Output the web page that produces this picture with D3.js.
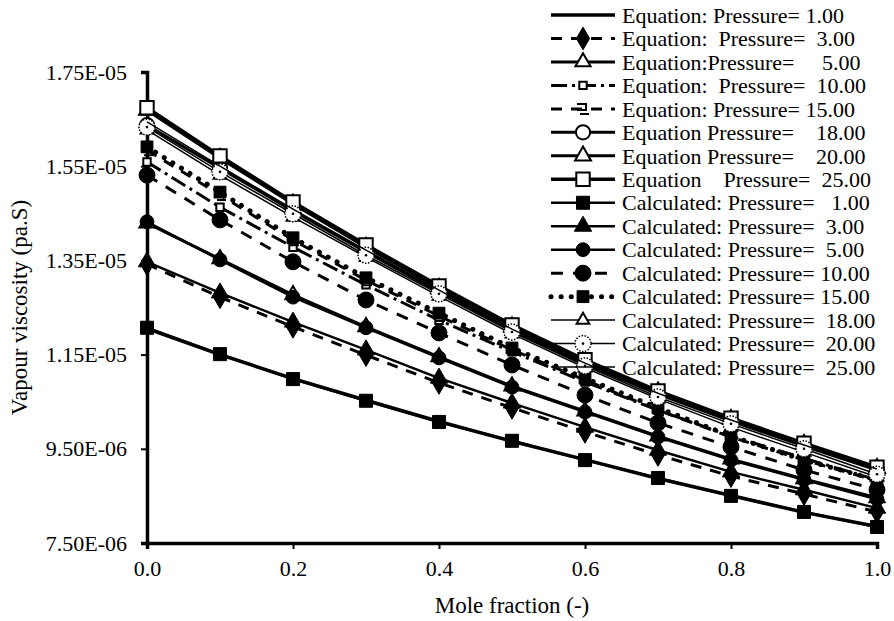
<!DOCTYPE html>
<html>
<head>
<meta charset="utf-8">
<script src="https://cdn.jsdelivr.net/npm/d3@7/dist/d3.min.js"></script>
<style>
  body { margin: 0; background: #fff; }
  text { font-family: "Liberation Serif", "Times New Roman", serif; fill: #000; }
</style>
</head>
<body>
<div id="chart"></div>
<script>
// mole fraction
const moleFraction = [0, 0.1, 0.2, 0.3, 0.4, 0.5, 0.6, 0.7, 0.8, 0.9, 1.0];

// vapour viscosity, in units of 1e-6 Pa.s
const eq1    = [12.05, 11.50, 10.99, 10.53, 10.08, 9.66, 9.27, 8.87, 8.51, 8.15, 7.85];
const eq3    = [13.42, 12.72, 12.09, 11.49, 10.90, 10.37, 9.86, 9.37, 8.92, 8.54, 8.16];
const eq5    = [14.29, 13.53, 12.77, 12.09, 11.45, 10.83, 10.30, 9.77, 9.28, 8.86, 8.46];
const eq10   = [15.59, 14.63, 13.78, 12.98, 12.23, 11.56, 10.92, 10.32, 9.77, 9.30, 8.84];
const eq15   = [15.84, 14.89, 13.93, 13.08, 12.32, 11.60, 10.96, 10.32, 9.75, 9.26, 8.82];
const eq18   = [16.37, 15.46, 14.55, 13.68, 12.83, 12.02, 11.30, 10.66, 10.09, 9.56, 9.05];
const eq20   = [16.69, 15.67, 14.70, 13.78, 12.91, 12.09, 11.34, 10.71, 10.13, 9.60, 9.09];
const eq25   = [16.74, 15.72, 14.74, 13.83, 12.96, 12.13, 11.39, 10.73, 10.15, 9.62, 9.11];
const calc1  = [12.07, 11.51, 10.98, 10.52, 10.07, 9.67, 9.26, 8.88, 8.50, 8.16, 7.84];
const calc3  = [13.47, 12.81, 12.19, 11.60, 11.00, 10.47, 9.96, 9.47, 9.01, 8.63, 8.24];
const calc5  = [14.32, 13.51, 12.72, 12.07, 11.43, 10.81, 10.28, 9.75, 9.26, 8.84, 8.43];
const calc10 = [15.31, 14.36, 13.47, 12.66, 11.96, 11.28, 10.64, 10.05, 9.54, 9.05, 8.63];
const calc15 = [15.91, 14.95, 13.98, 13.13, 12.38, 11.64, 11.00, 10.37, 9.77, 9.26, 8.84];
const calc18 = [16.27, 15.31, 14.42, 13.57, 12.74, 11.94, 11.22, 10.56, 9.96, 9.43, 8.90];
const calc20 = [16.33, 15.38, 14.49, 13.61, 12.79, 11.98, 11.26, 10.60, 10.03, 9.50, 8.96];
const calc25 = [16.44, 15.50, 14.59, 13.72, 12.87, 12.04, 11.32, 10.68, 10.11, 9.58, 9.07];

const seriesNames = [
  "Equation: Pressure= 1.00",
  "Equation:  Pressure=  3.00",
  "Equation:Pressure=     5.00",
  "Equation:  Pressure=  10.00",
  "Equation: Pressure= 15.00",
  "Equation Pressure=    18.00",
  "Equation Pressure=    20.00",
  "Equation    Pressure=  25.00",
  "Calculated: Pressure=   1.00",
  "Calculated: Pressure=  3.00",
  "Calculated: Pressure=  5.00",
  "Calculated: Pressure= 10.00",
  "Calculated: Pressure= 15.00",
  "Calculated: Pressure=  18.00",
  "Calculated: Pressure=  20.00",
  "Calculated: Pressure=  25.00"
];
const seriesValues = [eq1, eq3, eq5, eq10, eq15, eq18, eq20, eq25,
                      calc1, calc3, calc5, calc10, calc15, calc18, calc20, calc25];

const xTicks = [0, 0.2, 0.4, 0.6, 0.8, 1.0];
const yTicks = [7.5e-6, 9.5e-6, 1.15e-5, 1.35e-5, 1.55e-5, 1.75e-5];

// drawing styles for each series, same order as above
const styles = [
  {w: 3.5, dash: null,          sym: null},
  {w: 3,   dash: "11,9",        sym: "diamond", size: 150, fill: "#000"},
  {w: 3,   dash: null,          sym: "triangle", size: 100, fill: "#fff"},
  {w: 3,   dash: "16,5,3,5",    sym: "square", size: 55, fill: "#fff"},
  {w: 3,   dash: "11,9",        sym: "bracket"},
  {w: 3,   dash: null,          sym: "circle", size: 160, fill: "#fff"},
  {w: 3,   dash: null,          sym: "triangle", size: 110, fill: "#fff"},
  {w: 3.5, dash: null,          sym: "square", size: 180, fill: "#fff"},
  {w: 2.5, dash: null,          sym: "square", size: 170, fill: "#000"},
  {w: 2.5, dash: null,          sym: "triangle", size: 130, fill: "#000"},
  {w: 2.5, dash: null,          sym: "circle", size: 150, fill: "#000"},
  {w: 3,   dash: "12,10",       sym: "circle", size: 200, fill: "#000"},
  {w: 5,   dash: "0.1,10",      sym: "square", size: 140, fill: "#000", cap: "round"},
  {w: 1.5, dash: null,          sym: "triangle", size: 70, fill: "#fff"},
  {w: 1.5, dash: null,          sym: "dotcircle", size: 180},
  {w: 1.5, dash: null,          sym: null}
];

const width = 894, height = 621;
const margin = {left: 147, right: 17, top: 72, bottom: 78};

const svg = d3.select("#chart").append("svg")
  .attr("width", width)
  .attr("height", height);

const x = d3.scaleLinear().domain([0, 1]).range([margin.left, width - margin.right]);
const y = d3.scaleLinear().domain([7.5e-6, 1.75e-5]).range([height - margin.bottom, margin.top]);

function sciFormat(v) {
  const e = Math.floor(Math.log10(v) + 1e-9);
  const m = (Math.round(v / Math.pow(10, e) * 100) / 100).toFixed(2);
  return m + "E-" + String(-e).padStart(2, "0");
}

// axes
const xAxis = svg.append("g")
  .attr("transform", "translate(0," + y.range()[0] + ")")
  .call(d3.axisBottom(x).tickValues(xTicks).tickFormat(d3.format(".1f")).tickSize(6).tickPadding(11));
const yAxis = svg.append("g")
  .attr("transform", "translate(" + margin.left + ",0)")
  .call(d3.axisLeft(y).tickValues(yTicks).tickFormat(sciFormat).tickSize(6).tickPadding(14));

[xAxis, yAxis].forEach(function (a) {
  a.select(".domain").attr("stroke", "#000").attr("stroke-width", 3.5);
  a.selectAll(".tick line").attr("stroke", "#000").attr("stroke-width", 2);
  a.selectAll(".tick text")
    .style("font-family", '"Liberation Serif", serif')
    .style("font-size", "22px")
    .attr("fill", "#000");
});

svg.append("text")
  .attr("x", (x.range()[0] + x.range()[1]) / 2)
  .attr("y", 613)
  .attr("text-anchor", "middle")
  .style("font-size", "23px")
  .text("Mole fraction (-)");

svg.append("text")
  .attr("transform", "translate(27," + (y.range()[0] + y.range()[1]) / 2 + ") rotate(-90)")
  .attr("text-anchor", "middle")
  .style("font-size", "23px")
  .text("Vapour viscosity (pa.S)");

// markers
function drawMarker(g, s) {
  if (!s.sym) return;
  if (s.sym === "bracket") {
    g.append("path")
      .attr("d", "M-6,-5 H3 V1 H-6 M-3,5 H6")
      .attr("fill", "none").attr("stroke", "#000").attr("stroke-width", 2);
    return;
  }
  if (s.sym === "dotcircle") {
    g.append("circle").attr("r", 8)
      .attr("fill", "#fff").attr("stroke", "#000")
      .attr("stroke-width", 1.5).attr("stroke-dasharray", "1.5,1.5");
    g.append("circle").attr("r", 1.3).attr("fill", "#000");
    return;
  }
  const type = {
    diamond: d3.symbolDiamond, triangle: d3.symbolTriangle,
    square: d3.symbolSquare, circle: d3.symbolCircle
  }[s.sym];
  g.append("path")
    .attr("d", d3.symbol().type(type).size(s.size)())
    .attr("fill", s.fill)
    .attr("stroke", "#000")
    .attr("stroke-width", s.fill === "#fff" ? 2 : 1);
}

const line = d3.line()
  .x((d, i) => x(moleFraction[i]))
  .y(d => y(d * 1e-6));

const plot = svg.append("g");

seriesValues.forEach(function (vals, k) {
  const s = styles[k];
  const g = plot.append("g");
  g.append("path")
    .attr("d", line(vals))
    .attr("fill", "none")
    .attr("stroke", "#000")
    .attr("stroke-width", s.w)
    .attr("stroke-dasharray", s.dash)
    .attr("stroke-linecap", s.cap || "butt");
  vals.forEach(function (v, i) {
    const m = g.append("g")
      .attr("transform", "translate(" + x(moleFraction[i]) + "," + y(v * 1e-6) + ")");
    drawMarker(m, s);
  });
});

// legend
const legend = svg.append("g");
const rowH = 23.47;
seriesNames.forEach(function (name, k) {
  const s = styles[k];
  const row = legend.append("g").attr("transform", "translate(0," + (15 + k * rowH) + ")");
  row.append("line")
    .attr("x1", 551).attr("x2", 615)
    .attr("stroke", "#000")
    .attr("stroke-width", s.w)
    .attr("stroke-dasharray", s.dash)
    .attr("stroke-linecap", s.cap || "butt");
  drawMarker(row.append("g").attr("transform", "translate(583,0)"), s);
  row.append("text")
    .attr("x", 622)
    .attr("dy", "0.35em")
    .style("font-size", "22px")
    .style("white-space", "pre")
    .text(name);
});
</script>
</body>
</html>
